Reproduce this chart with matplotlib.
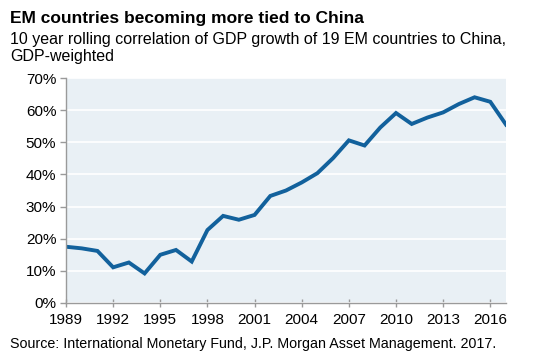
import numpy as np
import matplotlib.pyplot as plt
from matplotlib.ticker import PercentFormatter

plt.rcParams['font.family'] = ['Liberation Sans', 'DejaVu Sans']

years = list(range(1989, 2018))
corr = [17.5, 17.0, 16.2, 11.1, 12.6, 9.2, 15.0, 16.5, 12.9, 22.7,
        27.1, 25.9, 27.4, 33.3, 35.0, 37.5, 40.4, 45.1, 50.6, 49.0,
        54.6, 59.1, 55.7, 57.7, 59.3, 61.9, 64.0, 62.6, 55.5]
xticks = list(range(1989, 2017, 3))

title = "EM countries becoming more tied to China"
subtitle = "10 year rolling correlation of GDP growth of 19 EM countries to China,\nGDP-weighted"
source = "Source: International Monetary Fund, J.P. Morgan Asset Management. 2017."

fig = plt.figure(figsize=(5.5, 3.64), dpi=100)
ax = fig.add_axes([66/550, 1 - 303/364, (506-66)/550, (303-78)/364])

ax.set_facecolor('#e9f0f5')
ax.plot(years, corr, color='#12619c', lw=2.8, solid_joinstyle='miter')

ax.set_xlim(1989, 2017)
ax.set_ylim(0, 70)
ax.set_xticks(xticks)
ax.set_yticks(range(0, 71, 10))
ax.yaxis.set_major_formatter(PercentFormatter(decimals=0))
ax.grid(axis='y', color='white', lw=1.2)
ax.set_axisbelow(True)

for s in ['top', 'right']:
    ax.spines[s].set_visible(False)
for s in ['left', 'bottom']:
    ax.spines[s].set_color('#9a9a9a')
    ax.spines[s].set_linewidth(1.0)
ax.tick_params(axis='both', colors='#9a9a9a', labelcolor='black', labelsize=11, length=4, width=1)
ax.tick_params(axis='y', pad=3)
ax.tick_params(axis='x', direction='inout', length=6, pad=4)

fig.text(10/550, 1 - 11/364, title, fontsize=12.5, fontweight='bold', va='top', ha='left')
fig.text(10/550, 1 - 32/364, subtitle, fontsize=11.5, va='top', ha='left', linespacing=1.2)
fig.text(10/550, 1 - 344/364, source, fontsize=10.3, va='center', ha='left')

fig.savefig('out.png', dpi=100)
